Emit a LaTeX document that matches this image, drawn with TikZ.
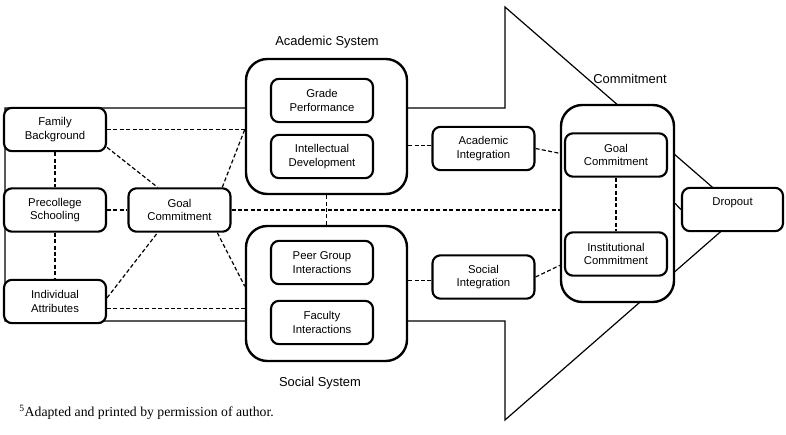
\documentclass[tikz,border=0pt]{standalone}
\usepackage{fontspec}
\setmainfont{Liberation Sans}
\newfontfamily\footfont{Liberation Serif}
\begin{document}
\begin{tikzpicture}[x=0.75pt,y=-0.75pt,
  sbox/.style={draw, line width=1.6pt, rounded corners=6pt, fill=white, align=center,
    font=\fontsize{8.5}{10}\selectfont, inner sep=0pt,
    minimum width=76.5pt, minimum height=32.5pt},
  obox/.style={draw, line width=1.8pt, rounded corners=16pt, fill=white, inner sep=0pt},
  lbl/.style={font=\fontsize{9.7}{11}\selectfont},
  dline/.style={line width=0.9pt, dash pattern=on 3pt off 1.8pt},
  aline/.style={line width=0.9pt}]
\useasboundingbox (0,0) rectangle (786,435);

% big arrow
\draw[aline] (5,108) -- (505,108) -- (505,7) -- (742,213) -- (505,420) -- (505,321) -- (5,321) -- cycle;

% outer boxes
\node[obox, minimum width=120.75pt, minimum height=101.25pt] (acad) at (326.5,126.5) {};
\node[obox, minimum width=120.75pt, minimum height=101.25pt] (soc) at (326.5,293.5) {};
\node[obox, minimum width=84.75pt, minimum height=147.75pt] (comm) at (617.5,203.5) {};

% labels
\node[lbl] (acadlbl) at (327,42) {Academic System};
\node[lbl] (soclbl) at (320,383) {Social System};
\node[lbl] (commlbl) at (630,79) {Commitment};

% left boxes
\node[sbox] (fam) at (55,129.5) {Family\\Background};
\node[sbox] (pre) at (55,210) {Precollege\\Schooling};
\node[sbox] (ind) at (55,301.5) {Individual\\Attributes};
\node[sbox] (goalL) at (179.5,210) {Goal\\Commitment};

% academic system
\node[sbox] (grade) at (322,100.5) {Grade\\Performance};
\node[sbox] (intel) at (322,156.5) {Intellectual\\Development};
\node[sbox] (acint) at (483.5,148.5) {Academic\\Integration};

% social system
\node[sbox] (peer) at (322,262.5) {Peer Group\\Interactions};
\node[sbox] (fac) at (322,322.5) {Faculty\\Interactions};
\node[sbox] (socint) at (483.5,277) {Social\\Integration};

% commitment
\node[sbox] (goalR) at (616,155) {Goal\\Commitment};
\node[sbox] (inst) at (616,254) {Institutional\\Commitment};

% dropout
\node[sbox, minimum width=75.75pt, text height=6pt, text depth=12pt] (drop) at (732.5,209.5) {Dropout};

% dashed connectors
\draw[dline] (fam.east) -- (fam.east -| acad.west);
\draw[dline] (fam.south) -- (pre.north);
\draw[dline] (fam.-19) -- (goalL.134);
\draw[dline] (pre.east) -- (goalL.west);
\draw[dline] (pre.south) -- (ind.north);
\draw[dline] (ind.4) -- (goalL.-134);
\draw[dline] (ind.-8) -- (ind.-8 -| soc.west);
\draw[dline] (goalL.28) -- (acad.182.5);
\draw[dline] (goalL.-31) -- (soc.175);
\draw[dline] (goalL.east) -- (goalL.east -| comm.west);
\draw[dline] (acad.south) -- (soc.north);
\draw[dline] (acad.-13) -- (acad.-13 -| acint.west);
\draw[dline] (acint.east) -- (comm.139.4);
\draw[dline] (soc.9.5) -- (soc.9.5 -| socint.west);
\draw[dline] (socint.east) -- (comm.-133);
\draw[dline] (goalR.south) -- (inst.north);

% solid connector
\draw[aline] (comm.east) -- (drop.west);

% footnote
\node[anchor=base west, inner sep=0pt, font=\footfont\fontsize{10.3}{12}\selectfont] (foot) at (19,416) {\textsuperscript{5}Adapted and printed by permission of author.};
\end{tikzpicture}
\end{document}
